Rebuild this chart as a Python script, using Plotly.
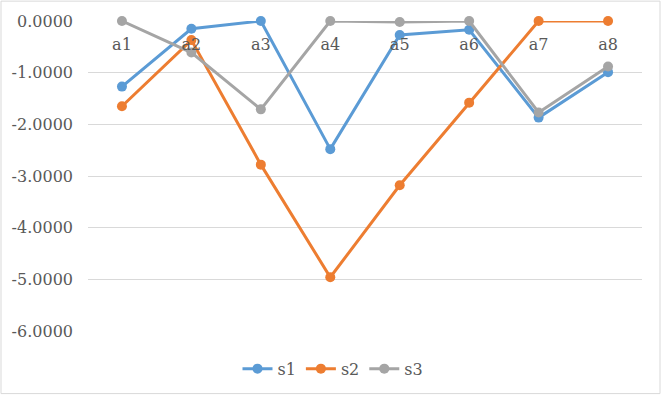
import plotly.graph_objects as go

categories = ["a1", "a2", "a3", "a4", "a5", "a6", "a7", "a8"]
s1 = [-1.27, -0.15, 0.0, -2.48, -0.27, -0.17, -1.87, -0.99]
s2 = [-1.65, -0.37, -2.78, -4.96, -3.18, -1.58, 0.0, 0.0]
s3 = [0.0, -0.61, -1.71, 0.0, -0.02, 0.0, -1.77, -0.88]
y_tick_vals = [0, -1, -2, -3, -4, -5, -6]
y_tick_text = ["0.0000", "-1.0000", "-2.0000", "-3.0000", "-4.0000", "-5.0000", "-6.0000"]

series = [("s1", s1, "#5B9BD5"), ("s2", s2, "#ED7D31"), ("s3", s3, "#A5A5A5")]

fig = go.Figure()
for name, vals, color in series:
    fig.add_trace(go.Scatter(
        x=categories, y=vals, name=name, mode="lines+markers",
        line=dict(color=color, width=3),
        marker=dict(color=color, size=10),
        cliponaxis=False,
    ))

font = dict(family="DejaVu Serif", size=16, color="#595959")
W, H = 662, 398
L, R, T, B = 88, 20, 21, 65
pw, ph = W - L - R, H - T - B

fig.update_layout(
    width=W, height=H,
    margin=dict(l=L, r=R, t=T, b=B),
    paper_bgcolor="white", plot_bgcolor="white",
    font=font,
    showlegend=True,
    legend=dict(orientation="h", x=(333 - L) / pw, xanchor="center",
                y=(T + ph - 371) / ph, yanchor="middle", font=font,
                itemwidth=30, tracegroupgap=0),
    xaxis=dict(type="category", anchor="free", position=1, side="bottom",
               showgrid=False, showline=False, zeroline=False, ticks="",
               tickfont=font, ticklabelstandoff=12, automargin=False),
    yaxis=dict(range=[-6, 0], tickvals=y_tick_vals, ticktext=y_tick_text,
               showgrid=True, gridcolor="#D9D9D9", gridwidth=1,
               zeroline=False, showline=False, ticks="",
               tickfont=font, ticklabelstandoff=14, automargin=False),
    shapes=[dict(type="rect", xref="paper", yref="paper",
                 x0=(1 - L) / pw, x1=(W - 2 - L) / pw,
                 y0=(T + ph - (H - 2)) / ph, y1=(T + ph - 1) / ph,
                 line=dict(color="#D9D9D9", width=1), fillcolor="rgba(0,0,0,0)",
                 layer="below")],
)

fig.write_html("out.html", config={"displayModeBar": False},
               post_script="document.body.style.margin='0';")
